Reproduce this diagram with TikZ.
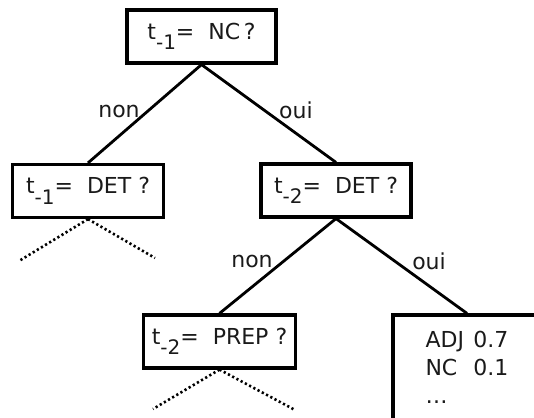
\documentclass[tikz,border=0pt]{standalone}
\usepackage{fontspec}
\setmainfont{DejaVu Sans}
\usepackage{xcolor}
\usepackage{tikz}
\usetikzlibrary{positioning}
\definecolor{ink}{HTML}{1A1A1A}
\newcommand{\tsub}[1]{\raisebox{-10.5pt}{\fontsize{20}{20}\selectfont #1}}

\begin{document}
\begin{tikzpicture}[
  x=1pt, y=-1pt,
  font=\fontsize{22}{26}\selectfont,
  test/.style={draw=black, line width=3.2pt, fill=white, text=ink, inner sep=2pt, minimum height=53pt},
  lbl/.style={text=ink, inner sep=0pt},
  arr/.style={line width=2.8pt, black},
  cut/.style={line width=2.6pt, black, dash pattern=on 2.2pt off 2.6pt}
]
\clip (0,0) rectangle (534,417);
\useasboundingbox (0,0) rectangle (534,417);
\fill[white] (0,0) rectangle (534,417);
\node[test, minimum width=149pt] (q0) at (201.5,36.5) {t\tsub{-1}=~~NC\,?};
\node[test, minimum width=151pt] (q1) at (88,191) {t\tsub{-1}=~~DET ?};
\node[test, minimum width=150pt] (q2) at (336,190.5) {t\tsub{-2}=~~DET ?};
\node[test, minimum width=152pt] (q3) at (219.5,341.5) {t\tsub{-2}=~~PREP ?};
\node[test, minimum width=148pt, minimum height=110pt] (leaf) at (467,370)
  {\renewcommand{\arraystretch}{1.08}\begin{tabular}{@{}p{48pt}@{}l@{}}ADJ & 0.7\\ NC & 0.1\\ \ldots & \end{tabular}};
% branches
\draw[arr] (q0.south) -- (q1.north);
\draw[arr] (q0.south) -- (q2.north);
\draw[arr] (q2.south) -- (q3.north);
\draw[arr] (q2.south) -- (leaf.north);
\node[lbl] (n0) at (119,111) {non};
\node[lbl] (o0) at (296,110) {oui};
\node[lbl] (n2) at (252,261) {non};
\node[lbl] (o2) at (429,261) {oui};
% subtrees left out
\coordinate (c1) at (19,261);
\coordinate (c2) at (155,258);
\coordinate (c3) at (153,409);
\coordinate (c4) at (295,410);
\draw[cut] (q1.south) -- (c1);
\draw[cut] (q1.south) -- (c2);
\draw[cut] (q3.south) -- (c3);
\draw[cut] (q3.south) -- (c4);
\end{tikzpicture}
\end{document}
